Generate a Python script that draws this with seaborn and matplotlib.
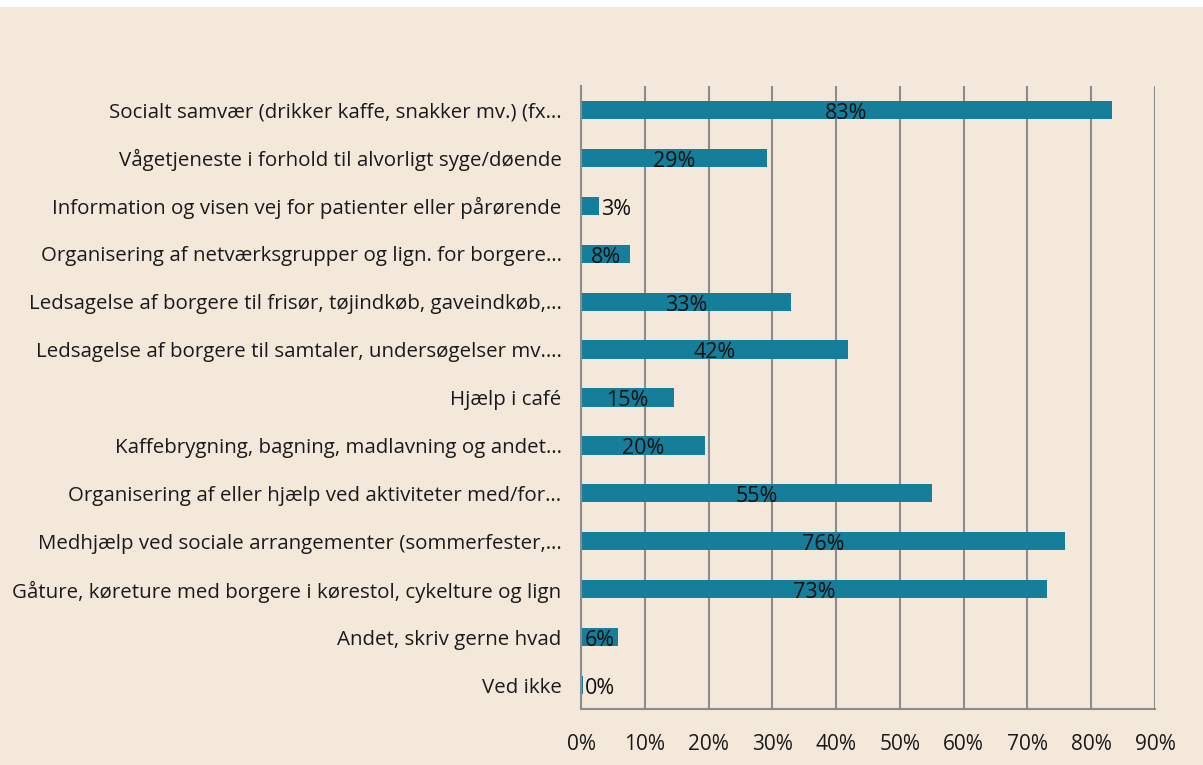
import matplotlib
matplotlib.use("Agg")
import matplotlib.pyplot as plt
import matplotlib.patches as mpatches
import numpy as np
import pandas as pd
import seaborn as sns

categories = [
    "Socialt samvær (drikker kaffe, snakker mv.) (fx…",
    "Vågetjeneste i forhold til alvorligt syge/døende",
    "Information og visen vej for patienter eller pårørende",
    "Organisering af netværksgrupper og lign. for borgere…",
    "Ledsagelse af borgere til frisør, tøjindkøb, gaveindkøb,…",
    "Ledsagelse af borgere til samtaler, undersøgelser mv.…",
    "Hjælp i café",
    "Kaffebrygning, bagning, madlavning og andet…",
    "Organisering af eller hjælp ved aktiviteter med/for…",
    "Medhjælp ved sociale arrangementer (sommerfester,…",
    "Gåture, køreture med borgere i kørestol, cykelture og lign",
    "Andet, skriv gerne hvad",
    "Ved ikke",
]
values = [83.2, 29.2, 2.8, 7.7, 32.9, 41.8, 14.6, 19.4, 55.0, 75.9, 73.0, 5.8, 0.3]
labels = ["83%", "29%", "3%", "8%", "33%", "42%", "15%", "20%", "55%", "76%", "73%", "6%", "0%"]
xticks = [0, 10, 20, 30, 40, 50, 60, 70, 80, 90]
xticklabels = [f"{t}%" for t in xticks]

BG = "#F4E8DB"
BAR = "#147E9B"
GRID = "#8C8C8C"

sns.set_theme(style="white")
plt.rcParams["font.family"] = ["Open Sans", "DejaVu Sans"]

df = pd.DataFrame({"cat": categories, "val": values})

fig = plt.figure(figsize=(12.03, 7.65), dpi=100, facecolor=BG)
ax = fig.add_axes([581/1203, 1-709/765, (1155-581)/1203, (709-86)/765])
ax.set_facecolor(BG)

sns.barplot(data=df, x="val", y="cat", color=BAR, width=0.38, ax=ax,
            saturation=1, edgecolor="none")

ax.set_xlim(0, 90)
ax.set_ylim(len(categories)-0.5, -0.5)
ax.set_xticks(xticks)
ax.set_xticklabels(xticklabels, fontsize=15, color="#1a1a1a")
ax.set_xlabel("")
ax.set_ylabel("")
ax.xaxis.grid(True, color=GRID, linewidth=1.5)
ax.set_axisbelow(True)

ax.set_yticks(range(len(categories)))
ax.set_yticklabels(categories, fontsize=14.75, color="#1a1a1a")
ax.tick_params(axis="y", which="major", length=0, pad=14)
ax.set_yticks(np.arange(-0.5, len(categories), 1), minor=True)
ax.tick_params(axis="y", which="minor", length=5, width=1.5, color=GRID, direction="out")
ax.tick_params(axis="x", which="major", length=6, width=1.5, color=GRID, direction="out", pad=12)

for s in ["top", "right"]:
    ax.spines[s].set_visible(False)
for s in ["left", "bottom"]:
    ax.spines[s].set_color(GRID)
    ax.spines[s].set_linewidth(1.5)

for i, (v, lab) in enumerate(zip(values, labels)):
    if v < 5:
        ax.text(v + 0.3, i + 0.07, lab, ha="left", va="center", fontsize=15.5, color="#111111")
    else:
        ax.text(v / 2, i + 0.07, lab, ha="center", va="center", fontsize=15.5, color="#111111")

fig.patches.append(mpatches.Rectangle((0, 1 - 7/765), 1, 7/765, transform=fig.transFigure,
                                      facecolor="white", edgecolor="none"))

fig.savefig("out.png", dpi=100, facecolor=BG)
